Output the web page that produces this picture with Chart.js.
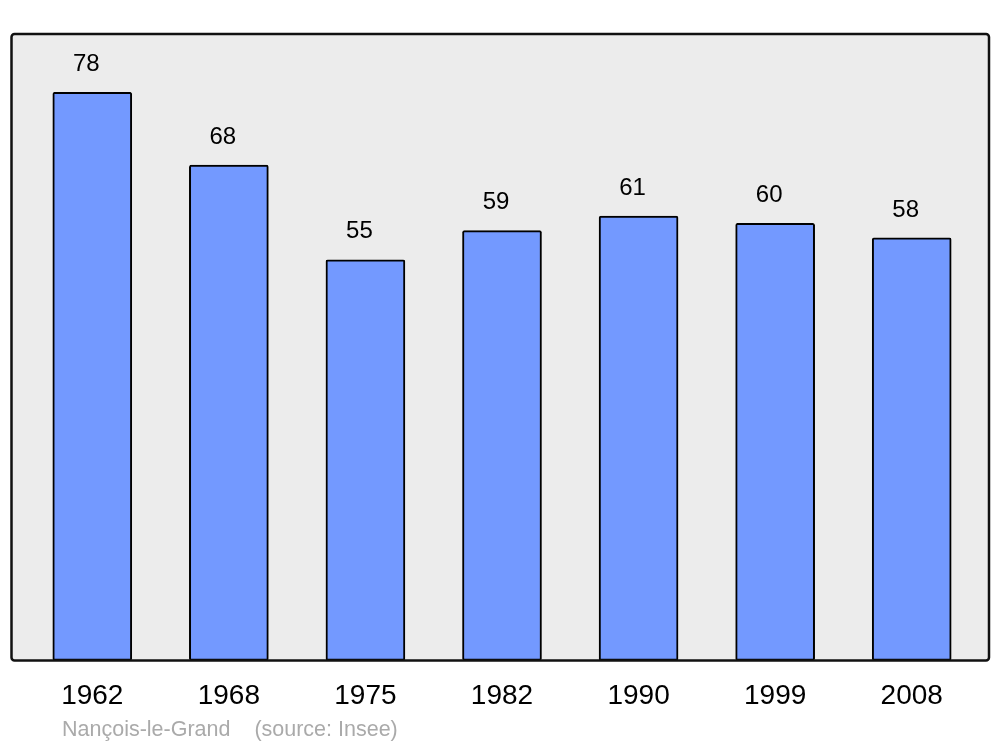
<!DOCTYPE html>
<html>
<head>
<meta charset="utf-8">
<script src="https://cdn.jsdelivr.net/npm/chart.js@4"></script>
<style>
  html, body { margin: 0; padding: 0; background: #fff; }
  #wrap { width: 1000px; height: 747px; }
</style>
</head>
<body>
<div id="wrap"><canvas id="popChart" width="1000" height="747"></canvas></div>
<script>
const years = ['1962', '1968', '1975', '1982', '1990', '1999', '2008'];
const population = [78, 68, 55, 59, 61, 60, 58];
const yMax = 86;
const footerText = 'Nançois-le-Grand    (source: Insee)';

// grey framed panel behind the bars
const panelBg = {
  id: 'panelBg',
  beforeDraw(chart) {
    const a = chart.chartArea;
    const c = chart.ctx;
    const x0 = a.left - 12.5, x1 = a.right + 9;
    c.save();
    c.beginPath();
    c.roundRect(x0, a.top, x1 - x0, a.bottom - a.top, 3);
    c.fillStyle = '#ececec';
    c.fill();
    c.restore();
  },
  afterDatasetsDraw(chart) {
    const a = chart.chartArea;
    const c = chart.ctx;
    const x0 = a.left - 12.5, x1 = a.right + 9;
    c.save();
    c.beginPath();
    c.roundRect(x0, a.top, x1 - x0, a.bottom - a.top, 3);
    c.lineWidth = 2.5;
    c.strokeStyle = '#111';
    c.stroke();

    // value labels above bars
    const meta = chart.getDatasetMeta(0);
    c.font = '24px "Liberation Sans", Arial, sans-serif';
    c.fillStyle = '#000';
    c.textAlign = 'center';
    c.textBaseline = 'middle';
    meta.data.forEach((bar, i) => {
      c.fillText(String(population[i]), bar.x - 6, bar.y - 28);
    });

    // footer
    c.font = '21.5px "Liberation Sans", Arial, sans-serif';
    c.fillStyle = '#aaaaaa';
    c.textAlign = 'left';
    c.fillText(footerText, 62, 730);
    c.restore();
  }
};

new Chart(document.getElementById('popChart'), {
  type: 'bar',
  data: {
    labels: years,
    datasets: [{
      data: population,
      backgroundColor: '#7399ff',
      borderColor: '#000',
      borderWidth: 2,
      borderRadius: 2,
      borderSkipped: false,
      barThickness: 79
    }]
  },
  options: {
    responsive: false,
    animation: false,
    layout: { padding: { left: 24, right: 20, top: 34, bottom: 15 } },
    plugins: { legend: { display: false }, tooltip: { enabled: false } },
    scales: {
      x: {
        grid: { display: false, drawTicks: false },
        border: { display: false },
        ticks: {
          color: '#000',
          padding: 19,
          font: { family: '"Liberation Sans", Arial, sans-serif', size: 28 }
        }
      },
      y: {
        display: false,
        min: 0,
        max: yMax
      }
    }
  },
  plugins: [panelBg]
});
</script>
</body>
</html>
